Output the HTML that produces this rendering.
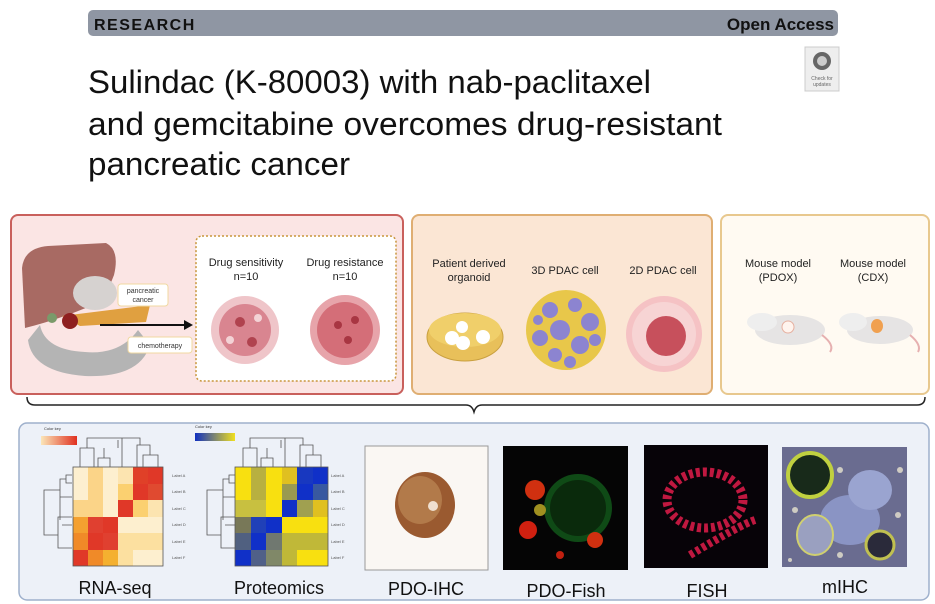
<!DOCTYPE html>
<html><head><meta charset="utf-8">
<style>
html,body{margin:0;padding:0;background:#fff;}
svg{display:block;font-family:"Liberation Sans",sans-serif;}
</style></head><body>
<svg width="935" height="604" viewBox="0 0 935 604" xmlns="http://www.w3.org/2000/svg">
<!-- header -->
<rect x="88" y="10" width="750" height="26" rx="5" fill="#8f96a3"/>
<text x="94" y="30" font-size="16" font-weight="bold" fill="#111" letter-spacing="1.5">RESEARCH</text>
<text x="834" y="30" font-size="17" font-weight="bold" fill="#111" text-anchor="end">Open Access</text>
<rect x="805" y="47" width="34" height="44" fill="#eee" stroke="#ccc"/>
<circle cx="822" cy="61" r="9" fill="#666"/><circle cx="822" cy="61" r="5" fill="#ccc"/>
<text x="822" y="80" font-size="5" fill="#666" text-anchor="middle">Check for</text>
<text x="822" y="86" font-size="5" fill="#666" text-anchor="middle">updates</text>
<text x="88" y="93" font-size="32" fill="#111" textLength="563" lengthAdjust="spacingAndGlyphs">Sulindac (K-80003) with nab-paclitaxel</text>
<text x="88" y="135" font-size="32" fill="#111" textLength="634" lengthAdjust="spacingAndGlyphs">and gemcitabine overcomes drug-resistant</text>
<text x="88" y="175" font-size="32" fill="#111" textLength="262" lengthAdjust="spacingAndGlyphs">pancreatic cancer</text>

<!-- panel 1 -->
<rect x="11" y="215" width="392" height="179" rx="7" fill="#fbe5e4" stroke="#c9605c" stroke-width="2"/>
<path d="M28 340 Q32 372 85 376 Q140 378 150 345 L138 330 Q120 355 85 352 Q45 350 40 325Z" fill="#b4b4b4"/>
<path d="M22 268 Q24 248 48 246 L106 243 Q120 250 114 275 L104 300 Q65 318 25 328Z" fill="#a86a63"/>
<ellipse cx="95" cy="293" rx="22" ry="17" fill="#d6d2d0"/>
<path d="M62 316 L150 305 L146 322 L80 326Z" fill="#e0a040"/>
<circle cx="70" cy="321" r="8" fill="#8f2020"/>
<circle cx="52" cy="318" r="5" fill="#7a9a6a"/>
<rect x="118" y="284" width="50" height="22" rx="3" fill="#fff" stroke="#f0d8a0"/>
<text x="143" y="293" font-size="7" text-anchor="middle" fill="#333">pancreatic</text>
<text x="143" y="302" font-size="7" text-anchor="middle" fill="#333">cancer</text>
<rect x="128" y="337" width="64" height="16" rx="3" fill="#fff" stroke="#f0d8a0"/>
<text x="160" y="348" font-size="7" text-anchor="middle" fill="#333">chemotherapy</text>
<line x1="100" y1="325" x2="185" y2="325" stroke="#111" stroke-width="2"/>
<polygon points="184,320 193,325 184,330" fill="#111"/>
<rect x="196" y="236" width="200" height="145" rx="6" fill="#fff" stroke="#c8963c" stroke-width="1.5" stroke-dasharray="2,2"/>
<text x="246" y="266" font-size="11" text-anchor="middle" fill="#222">Drug sensitivity</text>
<text x="246" y="280" font-size="11" text-anchor="middle" fill="#222">n=10</text>
<text x="345" y="266" font-size="11" text-anchor="middle" fill="#222">Drug resistance</text>
<text x="345" y="280" font-size="11" text-anchor="middle" fill="#222">n=10</text>
<circle cx="245" cy="330" r="34" fill="#efc5c9"/>
<circle cx="245" cy="330" r="26" fill="#d98590"/>
<circle cx="240" cy="322" r="5" fill="#b0434f"/><circle cx="252" cy="342" r="5" fill="#b0434f"/><circle cx="230" cy="340" r="4" fill="#f3d3d6"/><circle cx="258" cy="318" r="4" fill="#f3d3d6"/>
<circle cx="345" cy="330" r="35" fill="#e7a4aa"/>
<circle cx="345" cy="330" r="28" fill="#d46e78"/>
<circle cx="338" cy="325" r="4" fill="#a83642"/><circle cx="355" cy="320" r="4" fill="#a83642"/><circle cx="348" cy="340" r="4" fill="#a83642"/>

<!-- panel 2 -->
<rect x="412" y="215" width="300" height="179" rx="7" fill="#fbe6d4" stroke="#dfae72" stroke-width="2"/>
<text x="469" y="267" font-size="11" text-anchor="middle" fill="#222">Patient derived</text>
<text x="469" y="281" font-size="11" text-anchor="middle" fill="#222">organoid</text>
<text x="565" y="274" font-size="11" text-anchor="middle" fill="#222">3D PDAC cell</text>
<text x="663" y="274" font-size="11" text-anchor="middle" fill="#222">2D PDAC cell</text>
<ellipse cx="465" cy="337" rx="38" ry="24" fill="#e8c05a" stroke="#c9a040"/>
<ellipse cx="465" cy="330" rx="36" ry="17" fill="#f0cf6a"/>
<circle cx="452" cy="338" r="7" fill="#fff"/><circle cx="462" cy="327" r="6" fill="#fff"/><circle cx="463" cy="343" r="7" fill="#fff"/><circle cx="483" cy="337" r="7" fill="#fff"/>
<circle cx="566" cy="330" r="40" fill="#e8c74a"/>
<g fill="#8c84d0">
<circle cx="550" cy="310" r="8"/><circle cx="575" cy="305" r="7"/><circle cx="590" cy="322" r="9"/><circle cx="560" cy="330" r="10"/><circle cx="540" cy="338" r="8"/><circle cx="580" cy="345" r="9"/><circle cx="555" cy="355" r="7"/><circle cx="595" cy="340" r="6"/><circle cx="570" cy="362" r="6"/><circle cx="538" cy="320" r="5"/>
</g>
<circle cx="664" cy="334" r="38" fill="#f5c2c4"/>
<circle cx="664" cy="334" r="32" fill="#f7d4d4"/>
<circle cx="666" cy="336" r="20" fill="#c7505c"/>

<!-- panel 3 -->
<rect x="721" y="215" width="208" height="179" rx="7" fill="#fffaf2" stroke="#e8c88e" stroke-width="2"/>
<text x="778" y="267" font-size="11" text-anchor="middle" fill="#222">Mouse model</text>
<text x="778" y="281" font-size="11" text-anchor="middle" fill="#222">(PDOX)</text>
<text x="873" y="267" font-size="11" text-anchor="middle" fill="#222">Mouse model</text>
<text x="873" y="281" font-size="11" text-anchor="middle" fill="#222">(CDX)</text>
<ellipse cx="790" cy="330" rx="35" ry="15" fill="#e6e4e4"/>
<ellipse cx="762" cy="322" rx="15" ry="9" fill="#eeeeee"/>
<ellipse cx="788" cy="327" rx="6" ry="6" fill="#fff4ee" stroke="#e6b0a0"/>
<path d="M822 335 Q835 345 830 352" stroke="#e6b0b0" stroke-width="2" fill="none"/>
<ellipse cx="880" cy="330" rx="33" ry="14" fill="#e6e4e4"/>
<ellipse cx="853" cy="322" rx="14" ry="9" fill="#eeeeee"/>
<ellipse cx="877" cy="326" rx="6" ry="7" fill="#f0a050"/>
<path d="M910 335 Q922 345 918 352" stroke="#e6b0b0" stroke-width="2" fill="none"/>

<!-- bracket -->
<path d="M27 397 Q27 405 35 405 L466 405 Q472 405 474 412 Q476 405 482 405 L917 405 Q925 405 925 397" stroke="#222" stroke-width="1.5" fill="none"/>

<!-- bottom panel -->
<rect x="19" y="423" width="910" height="177" rx="8" fill="#edf1f8" stroke="#9eb0cc" stroke-width="1.5"/>

<defs>
<linearGradient id="g1"><stop offset="0" stop-color="#fbe6b8"/><stop offset="1" stop-color="#e03020"/></linearGradient>
<linearGradient id="g2"><stop offset="0" stop-color="#1030c0"/><stop offset="1" stop-color="#f0e020"/></linearGradient>
</defs>
<text x="44" y="430" font-size="4" fill="#333">Color key</text>
<rect x="41" y="436" width="36" height="9" fill="url(#g1)"/>
<text x="195" y="428" font-size="4" fill="#333">Color key</text>
<rect x="195" y="433" width="40" height="8" fill="url(#g2)"/>

<g stroke="#555" stroke-width="0.8" fill="none">
<path d="M80 467 V448 H94 V467 M87 448 V438 H122 V467 M98 467 V458 H110 V467 M104 458 V448 M118 448 V440 M143 467 V455 H158 V467 M150 455 V445 H137 V467 M140 445 V438 H115"/>
<path d="M72 475 H66 V483 H72 M66 479 H60 V520 M60 497 H72 M72 517 H58 V548 H72 M62 525 H72 M58 535 H44 V490 H60"/>
</g>
<g>
<rect x="73" y="467" width="15" height="17" fill="#fdefcf"/><rect x="88" y="467" width="15" height="17" fill="#fbd488"/><rect x="103" y="467" width="15" height="17" fill="#fdefcf"/><rect x="118" y="467" width="15" height="17" fill="#fce4b0"/><rect x="133" y="467" width="15" height="17" fill="#e04028"/><rect x="148" y="467" width="15" height="17" fill="#e03828"/>
<rect x="73" y="484" width="15" height="16" fill="#fdefcf"/><rect x="88" y="484" width="15" height="16" fill="#fbd488"/><rect x="103" y="484" width="15" height="16" fill="#fdefcf"/><rect x="118" y="484" width="15" height="16" fill="#fbd070"/><rect x="133" y="484" width="15" height="16" fill="#e03828"/><rect x="148" y="484" width="15" height="16" fill="#e04a30"/>
<rect x="73" y="500" width="15" height="17" fill="#fbd488"/><rect x="88" y="500" width="15" height="17" fill="#fbd488"/><rect x="103" y="500" width="15" height="17" fill="#fdefcf"/><rect x="118" y="500" width="15" height="17" fill="#e03828"/><rect x="133" y="500" width="15" height="17" fill="#fbd070"/><rect x="148" y="500" width="15" height="17" fill="#fce4b0"/>
<rect x="73" y="517" width="15" height="16" fill="#f4a030"/><rect x="88" y="517" width="15" height="16" fill="#e04030"/><rect x="103" y="517" width="15" height="16" fill="#e03828"/><rect x="118" y="517" width="15" height="16" fill="#fdefcf"/><rect x="133" y="517" width="15" height="16" fill="#fdefcf"/><rect x="148" y="517" width="15" height="16" fill="#fdefcf"/>
<rect x="73" y="533" width="15" height="17" fill="#f08a28"/><rect x="88" y="533" width="15" height="17" fill="#e03828"/><rect x="103" y="533" width="15" height="17" fill="#e04030"/><rect x="118" y="533" width="15" height="17" fill="#fce0a0"/><rect x="133" y="533" width="15" height="17" fill="#fce0a0"/><rect x="148" y="533" width="15" height="17" fill="#fce0a0"/>
<rect x="73" y="550" width="15" height="16" fill="#e03828"/><rect x="88" y="550" width="15" height="16" fill="#f08a28"/><rect x="103" y="550" width="15" height="16" fill="#f4b030"/><rect x="118" y="550" width="15" height="16" fill="#fce0a0"/><rect x="133" y="550" width="15" height="16" fill="#fdefcf"/><rect x="148" y="550" width="15" height="16" fill="#fdefcf"/>
<rect x="73" y="467" width="90" height="99" fill="none" stroke="#555" stroke-width="0.8"/>
</g>
<g font-size="4" fill="#555">
<text x="172" y="477">Label A</text><text x="172" y="493">Label B</text><text x="172" y="510">Label C</text><text x="172" y="526">Label D</text><text x="172" y="543">Label E</text><text x="172" y="559">Label F</text>
<text x="331" y="477">Label A</text><text x="331" y="493">Label B</text><text x="331" y="510">Label C</text><text x="331" y="526">Label D</text><text x="331" y="543">Label E</text><text x="331" y="559">Label F</text>
</g>
<g stroke="#555" stroke-width="0.8" fill="none">
<path d="M243 467 V448 H257 V467 M250 448 V438 H285 V467 M261 467 V458 H273 V467 M267 458 V448 M281 448 V440 M306 467 V455 H321 V467 M313 455 V445 H300 V467 M303 445 V438 H278"/>
<path d="M235 475 H229 V483 H235 M229 479 H223 V520 M223 497 H235 M235 517 H221 V548 H235 M225 525 H235 M221 535 H207 V490 H223"/>
</g>
<g>
<rect x="235" y="467" width="16" height="17" fill="#f8e010"/><rect x="251" y="467" width="15" height="17" fill="#b8b040"/><rect x="266" y="467" width="16" height="17" fill="#f8e010"/><rect x="282" y="467" width="15" height="17" fill="#e0c020"/><rect x="297" y="467" width="16" height="17" fill="#1838c0"/><rect x="313" y="467" width="15" height="17" fill="#1030c8"/>
<rect x="235" y="484" width="16" height="16" fill="#f8e010"/><rect x="251" y="484" width="15" height="16" fill="#b8b040"/><rect x="266" y="484" width="16" height="16" fill="#f8e010"/><rect x="282" y="484" width="15" height="16" fill="#9a9a50"/><rect x="297" y="484" width="16" height="16" fill="#1030c8"/><rect x="313" y="484" width="15" height="16" fill="#3858a0"/>
<rect x="235" y="500" width="16" height="17" fill="#c8c040"/><rect x="251" y="500" width="15" height="17" fill="#c8c040"/><rect x="266" y="500" width="16" height="17" fill="#f8e010"/><rect x="282" y="500" width="15" height="17" fill="#1030c8"/><rect x="297" y="500" width="16" height="17" fill="#a0a050"/><rect x="313" y="500" width="15" height="17" fill="#e0c020"/>
<rect x="235" y="517" width="16" height="16" fill="#787858"/><rect x="251" y="517" width="15" height="16" fill="#2040b8"/><rect x="266" y="517" width="16" height="16" fill="#1030c8"/><rect x="282" y="517" width="15" height="16" fill="#f8e010"/><rect x="297" y="517" width="16" height="16" fill="#f8e010"/><rect x="313" y="517" width="15" height="16" fill="#f8e010"/>
<rect x="235" y="533" width="16" height="17" fill="#506080"/><rect x="251" y="533" width="15" height="17" fill="#1030c8"/><rect x="266" y="533" width="16" height="17" fill="#707870"/><rect x="282" y="533" width="15" height="17" fill="#c0b838"/><rect x="297" y="533" width="16" height="17" fill="#c0b838"/><rect x="313" y="533" width="15" height="17" fill="#c0b838"/>
<rect x="235" y="550" width="16" height="16" fill="#1030c8"/><rect x="251" y="550" width="15" height="16" fill="#506088"/><rect x="266" y="550" width="16" height="16" fill="#808868"/><rect x="282" y="550" width="15" height="16" fill="#c0b838"/><rect x="297" y="550" width="16" height="16" fill="#f8e010"/><rect x="313" y="550" width="15" height="16" fill="#f8e010"/>
<rect x="235" y="467" width="93" height="99" fill="none" stroke="#555" stroke-width="0.8"/>
</g>

<!-- images -->
<rect x="365" y="446" width="123" height="124" fill="#faf7f3" stroke="#999"/>
<ellipse cx="425" cy="505" rx="30" ry="33" fill="#9a5a30"/>
<ellipse cx="420" cy="500" rx="22" ry="24" fill="#b27a4a"/>
<circle cx="433" cy="506" r="5" fill="#f0e0d0"/>
<rect x="503" y="446" width="125" height="124" fill="#050505"/>
<circle cx="578" cy="508" r="34" fill="#0f4a16"/>
<circle cx="578" cy="508" r="28" fill="#0a2a0c"/>
<circle cx="535" cy="490" r="10" fill="#d03010"/><circle cx="528" cy="530" r="9" fill="#d02010"/><circle cx="595" cy="540" r="8" fill="#d03010"/><circle cx="560" cy="555" r="4" fill="#c02010"/><circle cx="540" cy="510" r="6" fill="#a09020"/>
<rect x="644" y="445" width="124" height="123" fill="#070308"/>
<ellipse cx="705" cy="500" rx="38" ry="28" fill="none" stroke="#c01840" stroke-width="9" stroke-dasharray="4,3"/>
<path d="M690 555 Q740 525 755 520" stroke="#c01840" stroke-width="8" fill="none" stroke-dasharray="4,3"/>
<rect x="782" y="447" width="125" height="120" fill="#6a6c90"/>
<ellipse cx="850" cy="520" rx="30" ry="25" fill="#8a94c4"/>
<ellipse cx="870" cy="490" rx="22" ry="20" fill="#9aa4d0"/>
<ellipse cx="810" cy="475" rx="22" ry="22" fill="#182a1a" stroke="#c0d040" stroke-width="4"/>
<ellipse cx="880" cy="545" rx="14" ry="14" fill="#2a2a3a" stroke="#c0c050" stroke-width="3"/>
<ellipse cx="815" cy="535" rx="18" ry="20" fill="#9aa0c0" stroke="#d0d070" stroke-width="2"/>
<g fill="#e8e4d0" opacity="0.8"><circle cx="795" cy="510" r="3"/><circle cx="840" cy="470" r="3"/><circle cx="900" cy="470" r="3"/><circle cx="840" cy="555" r="3"/><circle cx="898" cy="515" r="3"/><circle cx="790" cy="560" r="2"/></g>

<!-- labels -->
<g font-size="18" fill="#111" text-anchor="middle">
<text x="115" y="594">RNA-seq</text>
<text x="279" y="594">Proteomics</text>
<text x="426" y="595">PDO-IHC</text>
<text x="566" y="597">PDO-Fish</text>
<text x="707" y="597">FISH</text>
<text x="845" y="593">mIHC</text>
</g>
</svg>
</body></html>
